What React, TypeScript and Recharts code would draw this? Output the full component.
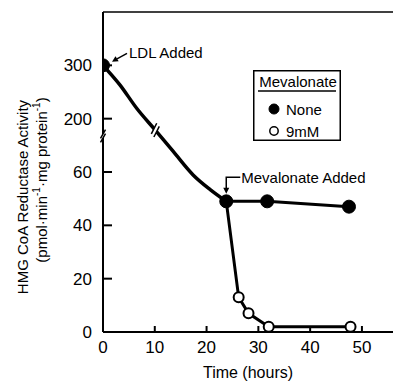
import React from 'react';
import { LineChart, Line, XAxis, YAxis, ReferenceLine, ReferenceDot, Legend } from 'recharts';

const FONT = '"Liberation Sans", Arial, Helvetica, sans-serif';

// filled circles, no mevalonate
const noneHours = [0, 23.8, 31.7, 47.5];
const noneActivity = [300, 49, 49, 47];
// open circles, 9 mM mevalonate
const mevHours = [23.8, 26.2, 28.1, 32, 47.8];
const mevActivity = [49, 13, 7, 2, 2];
// drawn decline after LDL, read as positions on the broken axis (0-60 lower, 80-100 = 200-300)
const declineHours = [0, 3.3, 6.5, 10.1, 13.6, 17.4, 20.7, 23.8];
const declinePos = [100, 92.6, 83.9, 75.7, 67.6, 58.9, 53.4, 49];

const xTicks = [0, 10, 20, 30, 40, 50];
const yTickValues = [0, 20, 40, 60, 200, 300];
const legendTitle = 'Mevalonate';
const legendLabels = ['None', '9mM'];

// broken y axis: 0-60 as is, 200-300 squeezed into 80-100
const toAxis = (v: number) => (v <= 60 ? v : 80 + (v - 200) / 5);
const yTicks = yTickValues.map(toAxis);

const nonePoints = noneHours.map((t, i) => ({ t, y: toAxis(noneActivity[i]) }));
const mevPoints = mevHours.map((t, i) => ({ t, y: toAxis(mevActivity[i]) }));
const declinePoints = declineHours.map((t, i) => ({ t, y: declinePos[i] }));

const BreakMark = ({ cx, cy, tx, ty, mx, my, half }: any) => {
  const a = { x: cx - 2 * tx, y: cy - 2 * ty };
  const b = { x: cx + 2 * tx, y: cy + 2 * ty };
  const pts = [
    [a.x - half * mx, a.y - half * my],
    [a.x + half * mx, a.y + half * my],
    [b.x + half * mx, b.y + half * my],
    [b.x - half * mx, b.y - half * my],
  ];
  return (
    <g>
      <polygon points={pts.map((p) => p.join(',')).join(' ')} fill="#fff" />
      <line x1={pts[0][0]} y1={pts[0][1]} x2={pts[1][0]} y2={pts[1][1]} stroke="#000" strokeWidth={1.5} />
      <line x1={pts[3][0]} y1={pts[3][1]} x2={pts[2][0]} y2={pts[2][1]} stroke="#000" strokeWidth={1.5} />
    </g>
  );
};

const LdlNote = ({ cx, cy }: any) => (
  <g>
    <line x1={cx + 24} y1={cy - 12} x2={cx + 14} y2={cy - 6.5} stroke="#000" strokeWidth={1.5} />
    <polygon points={`${cx + 9},${cy - 3.5} ${cx + 15.7},${cy - 4} ${cx + 12.5},${cy - 9.2}`} fill="#000" />
    <text x={cx + 26} y={cy - 7} fontSize={15} fontFamily={FONT} fill="#000">LDL Added</text>
  </g>
);

const MevNote = ({ cx, cy }: any) => (
  <g>
    <polyline points={`${cx + 14},${cy - 24} ${cx},${cy - 24} ${cx},${cy - 13}`} fill="none" stroke="#000" strokeWidth={1.5} />
    <polygon points={`${cx},${cy - 7.5} ${cx - 3},${cy - 13.5} ${cx + 3},${cy - 13.5}`} fill="#000" />
    <text x={cx + 15} y={cy - 18.5} fontSize={15} fontFamily={FONT} fill="#000">Mevalonate Added</text>
  </g>
);

const YTitle = () => (
  <g fontFamily={FONT} fontSize={15} fill="#000">
    <text x={22} y={197} textAnchor="middle" dominantBaseline="central" transform="rotate(-90, 22, 197)">
      HMG CoA Reductase Activity
    </text>
    <text x={41} y={180} textAnchor="middle" dominantBaseline="central" transform="rotate(-90, 41, 180)">
      (pmol·min<tspan dy={-5} fontSize={10}>-1</tspan>
      <tspan dy={5}>·mg protein</tspan>
      <tspan dy={-5} fontSize={10}>-1</tspan>
      <tspan dy={5}>)</tspan>
    </text>
  </g>
);

const XTitle = () => (
  <text x={248} y={378} textAnchor="middle" fontSize={16} fontFamily={FONT} fill="#000">
    Time (hours)
  </text>
);

const LegendBox = () => (
  <svg width={88} height={71} style={{ display: 'block' }}>
    <rect x={0.75} y={0.75} width={86.5} height={69.5} fill="#fff" stroke="#000" strokeWidth={1.5} />
    <text x={45} y={17} textAnchor="middle" fontSize={15} fontFamily={FONT} fill="#000">{legendTitle}</text>
    <line x1={5} x2={83} y1={21} y2={21} stroke="#000" strokeWidth={1.5} />
    {legendLabels.map((label, i) => (
      <g key={label}>
        <circle cx={21} cy={39 + i * 22} r={i === 0 ? 5 : 4.2} fill={i === 0 ? '#000' : '#fff'} stroke="#000" strokeWidth={i === 0 ? 1 : 1.5} />
        <text x={33} y={39 + i * 22} dominantBaseline="central" fontSize={15} fontFamily={FONT} fill="#000">{label}</text>
      </g>
    ))}
  </svg>
);

const axisStyle = { stroke: '#000', strokeWidth: 2 };
const tickStyle = { fontSize: 17, fill: '#000', fontFamily: FONT };

export default function App() {
  return (
    <div style={{ position: 'absolute', left: 0, top: 0, background: '#fff' }}>
      <LineChart width={393} height={382} margin={{ top: 12, right: 0, bottom: 20, left: 43 }}>
        <XAxis
          type="number"
          dataKey="t"
          domain={[0, 56]}
          ticks={xTicks}
          interval={0}
          allowDataOverflow
          height={30}
          axisLine={axisStyle}
          tickLine={axisStyle}
          tickSize={-6}
          tickMargin={15}
          tick={tickStyle}
          label={<XTitle />}
        />
        <YAxis
          type="number"
          domain={[0, 120]}
          ticks={yTicks}
          interval={0}
          allowDataOverflow
          width={60}
          axisLine={axisStyle}
          tickLine={axisStyle}
          tickSize={-9}
          tickMargin={20}
          tick={tickStyle}
          tickFormatter={(a: number) => String(yTickValues[yTicks.indexOf(a)])}
          label={<YTitle />}
        />
        <ReferenceLine y={120} stroke="#000" strokeWidth={1.5} />
        <Legend
          layout="vertical"
          verticalAlign="middle"
          align="center"
          wrapperStyle={{ left: 253, top: 70 }}
          content={() => <LegendBox />}
        />
        <ReferenceDot
          x={0}
          y={73.5}
          r={0}
          shape={(p: any) => <BreakMark cx={p.cx} cy={p.cy} tx={0} ty={1} mx={0.5} my={-0.87} half={5} />}
        />
        <Line
          data={mevPoints}
          dataKey="y"
          stroke="#000"
          strokeWidth={3}
          isAnimationActive={false}
          dot={{ r: 5, fill: '#fff', stroke: '#000', strokeWidth: 2 }}
        />
        <Line
          data={declinePoints}
          dataKey="y"
          type="monotone"
          stroke="#000"
          strokeWidth={3.5}
          isAnimationActive={false}
          dot={false}
        />
        <ReferenceDot
          x={declineHours[3]}
          y={declinePos[3]}
          r={0}
          shape={(p: any) => <BreakMark cx={p.cx} cy={p.cy} tx={0.645} ty={0.764} mx={0.45} my={-0.89} half={6} />}
        />
        <Line
          data={nonePoints.slice(1)}
          dataKey="y"
          stroke="#000"
          strokeWidth={3}
          isAnimationActive={false}
          dot={false}
        />
        <Line
          data={nonePoints}
          dataKey="y"
          stroke="none"
          isAnimationActive={false}
          dot={{ r: 6.5, fill: '#000', stroke: '#000', strokeWidth: 1 }}
        />
        <ReferenceDot x={noneHours[0]} y={toAxis(noneActivity[0])} r={0} shape={(p: any) => <LdlNote cx={p.cx} cy={p.cy} />} />
        <ReferenceDot x={noneHours[1]} y={toAxis(noneActivity[1])} r={0} shape={(p: any) => <MevNote cx={p.cx} cy={p.cy} />} />
      </LineChart>
    </div>
  );
}
